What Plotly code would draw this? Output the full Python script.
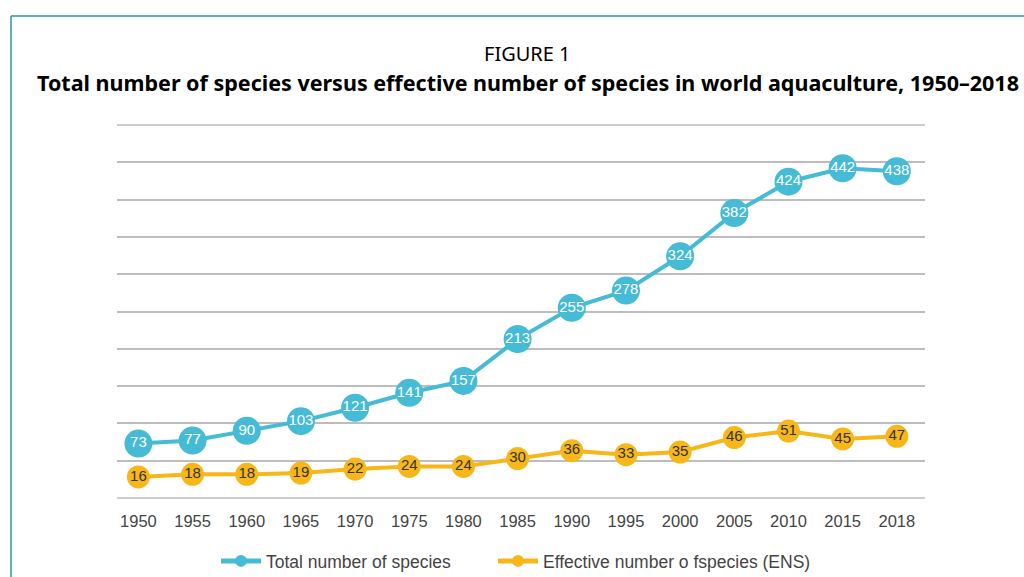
import plotly.graph_objects as go

years = ["1950", "1955", "1960", "1965", "1970", "1975", "1980", "1985",
         "1990", "1995", "2000", "2005", "2010", "2015", "2018"]
total_species = [73, 77, 90, 103, 121, 141, 157, 213, 255, 278, 324, 382, 424, 442, 438]
ens_species = [16, 18, 18, 19, 22, 24, 24, 30, 36, 33, 35, 46, 51, 45, 47]

idx = list(range(len(years)))
BLUE = "#45bbd6"
YELLOW = "#f7b719"
FONT = "Liberation Sans, Arial, sans-serif"
TFONT = "Noto Sans, Open Sans, sans-serif"

fig = go.Figure()
fig.add_trace(go.Scatter(
    x=idx, y=total_species, name="Total number of species",
    mode="lines+markers+text", text=[str(v) for v in total_species],
    textposition="middle center",
    textfont=dict(family=FONT, size=15, color="white"),
    line=dict(color=BLUE, width=4),
    marker=dict(color=BLUE, size=28),
    cliponaxis=False, legend="legend",
))
fig.add_trace(go.Scatter(
    x=idx, y=ens_species, name="Effective number o fspecies (ENS)",
    mode="lines+markers+text", text=[str(v) for v in ens_species],
    textposition="middle center",
    textfont=dict(family=FONT, size=15, color="#333333"),
    line=dict(color=YELLOW, width=4),
    marker=dict(color=YELLOW, size=23),
    yaxis="y2", cliponaxis=False, legend="legend2",
))

L, R, T, B = 117, 99, 125, 79
W, H = 1024, 577
pw, ph = W - L - R, H - T - B
def px(x):
    return (x - L) / pw
def py(y):
    return (H - B - y) / ph

legend_style = dict(orientation="h", y=py(561), yanchor="middle", xanchor="left",
                    font=dict(family=FONT, size=17.5, color="#444444"),
                    itemsizing="constant", itemwidth=40, bgcolor="rgba(0,0,0,0)")

fig.update_layout(
    width=W, height=H,
    margin=dict(l=L, r=R, t=T, b=B, autoexpand=False),
    paper_bgcolor="white", plot_bgcolor="white",
    showlegend=True,
    legend=dict(x=px(216), **legend_style),
    legend2=dict(x=px(493), **legend_style),
    xaxis=dict(range=[-0.395, 14.52], tickmode="array", tickvals=idx, ticktext=years,
               showgrid=False, zeroline=False, showline=False, ticks="",
               tickfont=dict(family=FONT, size=16.5, color="#444444"),
               ticklabelstandoff=11),
    yaxis=dict(range=[0, 500], dtick=50, showgrid=True, gridcolor="#bdbdbd",
               gridwidth=1.5, zeroline=False, showticklabels=False, ticks=""),
    yaxis2=dict(range=[0, 284], overlaying="y", side="right", showgrid=False,
                zeroline=False, showticklabels=False, ticks=""),
    shapes=[
        dict(type="line", xref="paper", yref="paper", x0=px(11), x1=px(1030),
             y0=py(16), y1=py(16), line=dict(color="#2a9a93", width=1.5)),
        dict(type="line", xref="paper", yref="paper", x0=px(11), x1=px(11),
             y0=py(16), y1=py(580), line=dict(color="#2a9a93", width=1.5)),
        dict(type="line", xref="paper", yref="paper", x0=0, x1=1,
             y0=0, y1=0, line=dict(color="#bdbdbd", width=1.5)),
        dict(type="line", xref="paper", yref="paper", x0=0, x1=1,
             y0=1, y1=1, line=dict(color="#bdbdbd", width=1.5)),
    ],
    annotations=[
        dict(text="FIGURE 1", xref="paper", yref="paper", x=px(527), y=py(53),
             showarrow=False, xanchor="center", yanchor="middle",
             font=dict(family=TFONT, size=20, color="black")),
        dict(text="<b>Total number of species versus effective number of species in world aquaculture, 1950–2018</b>",
             xref="paper", yref="paper", x=px(528), y=py(83),
             showarrow=False, xanchor="center", yanchor="middle",
             font=dict(family=TFONT, size=21.5, color="black")),
    ],
)

fig.write_html("out.html", config={"displayModeBar": False},
               post_script="document.body.style.margin='0px';")
